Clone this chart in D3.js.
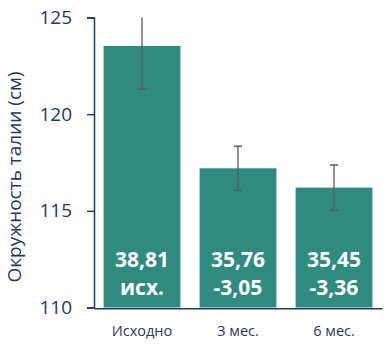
<!DOCTYPE html>
<html>
<head>
<meta charset="utf-8">
<script src="https://cdn.jsdelivr.net/npm/d3@7"></script>
<style>
  html, body { margin: 0; padding: 0; background: #fff; }
  svg { display: block; }
  text { font-family: "Open Sans", "Noto Sans", sans-serif; }
</style>
</head>
<body>
<div id="chart"></div>
<script>
const categories = ["Исходно", "3 мес.", "6 мес."];
const values = [123.53, 117.2, 116.2];
const errors = [2.24, 1.14, 1.17];
const labelLine1 = ["38,81", "35,76", "35,45"];
const labelLine2 = ["исх.", "-3,05", "-3,36"];
const yTicks = [110, 115, 120, 125];
const yTitle = "Окружность талии (см)";

const W = 390, H = 354;
const margin = { left: 94, right: 8, top: 17.5, bottom: 46 };
const axisColor = "#1F3864";
const barColor = "#2E8B7E";

const svg = d3.select("#chart").append("svg").attr("width", W).attr("height", H);

const x = d3.scaleBand().domain(categories)
  .range([margin.left, 382])
  .paddingInner(0.2).paddingOuter(0.1);
const y = d3.scaleLinear().domain([110, 125]).range([307.5, margin.top]);

svg.append("defs").append("clipPath").attr("id", "plot")
  .append("rect").attr("x", margin.left).attr("y", y(125)).attr("width", 382 - margin.left).attr("height", y(110) - y(125));

// bars
svg.append("g").selectAll("rect").data(categories).join("rect")
  .attr("x", d => x(d))
  .attr("width", x.bandwidth())
  .attr("y", (d, i) => y(values[i]))
  .attr("height", (d, i) => y(110) - y(values[i]))
  .attr("fill", barColor);

// error bars
const eg = svg.append("g").attr("clip-path", "url(#plot)")
  .attr("stroke", "#595959").attr("stroke-width", 1.3);
categories.forEach((c, i) => {
  const cx = x(c) + x.bandwidth() / 2;
  const top = y(values[i] + errors[i]), bot = y(values[i] - errors[i]);
  eg.append("line").attr("x1", cx).attr("x2", cx).attr("y1", top).attr("y2", bot);
  eg.append("line").attr("x1", cx - 4).attr("x2", cx + 4).attr("y1", top).attr("y2", top);
  eg.append("line").attr("x1", cx - 4).attr("x2", cx + 4).attr("y1", bot).attr("y2", bot);
});

// labels in bars
const lg = svg.append("g").attr("fill", "#fff").attr("font-weight", "bold")
  .attr("font-size", 21).attr("text-anchor", "middle");
categories.forEach((c, i) => {
  const cx = x(c) + x.bandwidth() / 2;
  lg.append("text").attr("x", cx).attr("y", 266.5).text(labelLine1[i]);
  lg.append("text").attr("x", cx).attr("y", 295).text(labelLine2[i]);
});

// y axis
const yAxis = svg.append("g").attr("transform", `translate(${margin.left},0)`)
  .call(d3.axisLeft(y).tickValues(yTicks).tickSize(7).tickPadding(15).tickSizeOuter(7));
yAxis.select(".domain").attr("stroke", axisColor).attr("stroke-width", 1.5);
yAxis.selectAll(".tick line").attr("stroke", axisColor).attr("stroke-width", 1.5);
yAxis.selectAll(".tick text").attr("fill", axisColor).attr("font-size", 19)
  .attr("font-family", "'Open Sans', sans-serif");

// x axis
const xAxis = svg.append("g").attr("transform", `translate(0,${y(110) + 0.8})`)
  .call(d3.axisBottom(x).tickSize(0).tickPadding(17).tickSizeOuter(0));
xAxis.select(".domain").attr("stroke", axisColor).attr("stroke-width", 1.5);
xAxis.selectAll(".tick text").attr("fill", axisColor).attr("font-size", 14.5)
  .attr("font-family", "'Open Sans', sans-serif");

// y title
svg.append("text")
  .attr("transform", `translate(21,177) rotate(-90)`)
  .attr("text-anchor", "middle")
  .attr("fill", axisColor)
  .attr("font-size", 19)
  .text(yTitle);
</script>
</body>
</html>
